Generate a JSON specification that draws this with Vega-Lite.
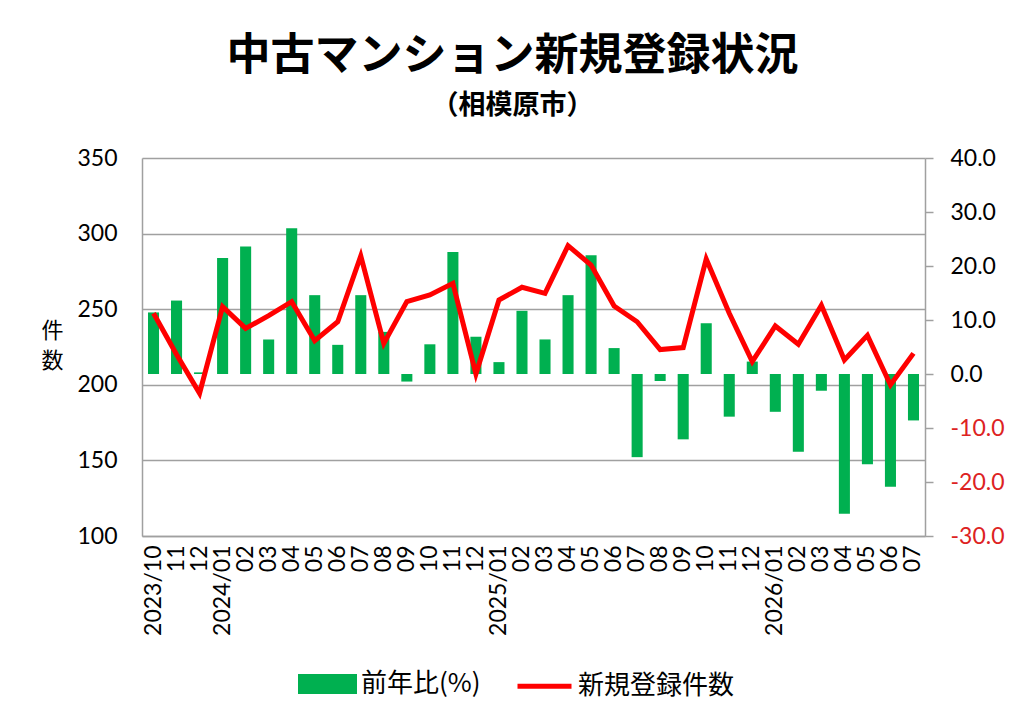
{
  "$schema": "https://vega.github.io/schema/vega-lite/v6.json",
  "width": 783,
  "height": 378,
  "autosize": {"type": "none"},
  "padding": {"left": 142, "top": 158, "right": 99, "bottom": 191},
  "background": "white",
  "title": {
    "text": "中古マンション新規登録状況",
    "subtitle": "（相模原市）",
    "anchor": "middle",
    "dx": -21,
    "font": "Noto Sans CJK JP",
    "fontSize": 44,
    "fontWeight": "bold",
    "color": "black",
    "subtitleFont": "Noto Sans CJK JP",
    "subtitleFontSize": 27,
    "subtitleFontWeight": "bold",
    "subtitleColor": "black",
    "subtitlePadding": 14,
    "offset": 28
  },
  "data": {
    "values": [
      {"month": "2023/10", "yoy": 11.4, "count": 247.3},
      {"month": "2023/11", "yoy": 13.6, "count": 220.0},
      {"month": "2023/12", "yoy": 0.3, "count": 194.4},
      {"month": "2024/01", "yoy": 21.5, "count": 251.7},
      {"month": "2024/02", "yoy": 23.6, "count": 237.3},
      {"month": "2024/03", "yoy": 6.4, "count": 245.7},
      {"month": "2024/04", "yoy": 27.0, "count": 255.0},
      {"month": "2024/05", "yoy": 14.6, "count": 229.2},
      {"month": "2024/06", "yoy": 5.4, "count": 241.7},
      {"month": "2024/07", "yoy": 14.6, "count": 285.2},
      {"month": "2024/08", "yoy": 7.8, "count": 227.4},
      {"month": "2024/09", "yoy": -1.4, "count": 255.0},
      {"month": "2024/10", "yoy": 5.5, "count": 259.4},
      {"month": "2024/11", "yoy": 22.6, "count": 267.1},
      {"month": "2024/12", "yoy": 6.9, "count": 207.1},
      {"month": "2025/01", "yoy": 2.2, "count": 256.1},
      {"month": "2025/02", "yoy": 11.7, "count": 264.5},
      {"month": "2025/03", "yoy": 6.4, "count": 260.5},
      {"month": "2025/04", "yoy": 14.6, "count": 292.0},
      {"month": "2025/05", "yoy": 22.0, "count": 279.2},
      {"month": "2025/06", "yoy": 4.8, "count": 252.1},
      {"month": "2025/07", "yoy": -15.4, "count": 241.7},
      {"month": "2025/08", "yoy": -1.3, "count": 223.3},
      {"month": "2025/09", "yoy": -12.1, "count": 224.6},
      {"month": "2025/10", "yoy": 9.4, "count": 283.2},
      {"month": "2025/11", "yoy": -7.9, "count": 247.3},
      {"month": "2025/12", "yoy": 2.3, "count": 215.3},
      {"month": "2026/01", "yoy": -7.0, "count": 238.9},
      {"month": "2026/02", "yoy": -14.4, "count": 226.8},
      {"month": "2026/03", "yoy": -3.1, "count": 252.6},
      {"month": "2026/04", "yoy": -25.9, "count": 216.4},
      {"month": "2026/05", "yoy": -16.7, "count": 232.7},
      {"month": "2026/06", "yoy": -20.9, "count": 199.9},
      {"month": "2026/07", "yoy": -8.6, "count": 220.8}
    ]
  },
  "encoding": {
    "x": {
      "field": "month",
      "type": "ordinal",
      "sort": null,
      "scale": {"paddingInner": 0.52, "paddingOuter": 0.26},
      "axis": {
        "title": null,
        "labelAngle": -90,
        "labelFont": "Lato",
        "labelFontSize": 23,
        "labelColor": "black",
        "labelPadding": 9,
        "ticks": false,
        "domainColor": "#a0a0a0",
        "domainWidth": 1.5,
        "labelExpr": "indexof(['2023/10','2024/01','2025/01','2026/01'], datum.value) >= 0 ? datum.value : slice(datum.value, 5)"
      }
    }
  },
  "layer": [
    {
      "mark": {"type": "bar"},
      "encoding": {
        "y": {
          "field": "yoy",
          "type": "quantitative",
          "scale": {"domain": [-30, 40], "nice": false},
          "axis": {
            "orient": "right",
            "title": null,
            "values": [-30, -20, -10, 0, 10, 20, 30, 40],
            "labelExpr": "datum.value < 0 ? '-' + format(-datum.value, '.1f') : format(datum.value, '.1f')",
            "grid": false,
            "domainColor": "#a0a0a0",
            "domainWidth": 1.5,
            "ticks": true,
            "tickSize": 8,
            "tickColor": "#a0a0a0",
            "tickWidth": 1.5,
            "labelPadding": 17,
            "labelFont": "Lato",
            "labelFontSize": 23,
            "labelColor": {"condition": {"test": "datum.value < 0", "value": "#DD2222"}, "value": "black"}
          }
        },
        "color": {
          "datum": "前年比(%)",
          "scale": {"domain": ["前年比(%)", "新規登録件数"], "range": ["#00B050", "#FF0000"]},
          "legend": {
            "orient": "none",
            "legendX": 156,
            "legendY": 496,
            "direction": "horizontal",
            "title": null,
            "padding": 0,
            "labelFont": "Noto Sans CJK JP",
            "labelFontSize": 26,
            "labelColor": "black",
            "labelOffset": 4,
            "columnPadding": 26,
            "symbolSize": 2916,
            "encode": {
              "symbols": {
                "update": {
                  "shape": {"signal": "datum.value === '前年比(%)' ? 'M-1,-0.278L1,-0.278L1,0.278L-1,0.278Z' : 'stroke'"},
                  "fill": {"signal": "datum.value === '前年比(%)' ? '#00B050' : 'transparent'"},
                  "stroke": {"signal": "datum.value === '前年比(%)' ? 'transparent' : '#FF0000'"},
                  "strokeWidth": {"value": 5},
                  "opacity": {"value": 1}
                }
              }
            }
          }
        }
      }
    },
    {
      "mark": {"type": "line", "strokeWidth": 5},
      "encoding": {
        "y": {
          "field": "count",
          "type": "quantitative",
          "scale": {"domain": [100, 350], "nice": false, "zero": false},
          "axis": {
            "orient": "left",
            "values": [100, 150, 200, 250, 300, 350],
            "grid": true,
            "gridColor": "#a0a0a0",
            "gridWidth": 1.5,
            "domainColor": "#a0a0a0",
            "domainWidth": 1.5,
            "ticks": false,
            "labelPadding": 25,
            "labelFont": "Lato",
            "labelFontSize": 23,
            "labelColor": "black",
            "title": ["件", "数"],
            "titleFont": "Noto Sans CJK JP",
            "titleFontSize": 22,
            "titleLineHeight": 30,
            "titleFontWeight": "normal",
            "titleColor": "black",
            "titleAngle": 0,
            "titleAlign": "center",
            "titleBaseline": "middle",
            "titleX": -90,
            "titleY": 172
          }
        },
        "color": {"datum": "新規登録件数"}
      }
    }
  ],
  "resolve": {"scale": {"y": "independent"}},
  "config": {
    "view": {"stroke": null}
  }
}
